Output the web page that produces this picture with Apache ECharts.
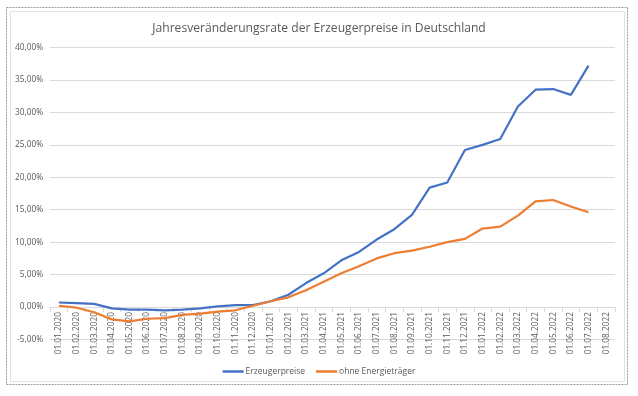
<!DOCTYPE html>
<html>
<head>
<meta charset="utf-8">
<script src="https://cdn.jsdelivr.net/npm/echarts@6/dist/echarts.min.js"></script>
<style>
	html, body {margin: 0; padding: 0; background: #fff;}
	#main {width: 638px; height: 396px;}
</style>
</head>
<body>
<div id="main"></div>
<script>
// Monatsdaten
var months = ['01.01.2020','01.02.2020','01.03.2020','01.04.2020','01.05.2020','01.06.2020',
	'01.07.2020','01.08.2020','01.09.2020','01.10.2020','01.11.2020','01.12.2020',
	'01.01.2021','01.02.2021','01.03.2021','01.04.2021','01.05.2021','01.06.2021',
	'01.07.2021','01.08.2021','01.09.2021','01.10.2021','01.11.2021','01.12.2021',
	'01.01.2022','01.02.2022','01.03.2022','01.04.2022','01.05.2022','01.06.2022',
	'01.07.2022','01.08.2022'];

// Jahresveränderung in %
var erzeugerpreise = [0.7, 0.6, 0.5, -0.2, -0.4, -0.4, -0.5, -0.4, -0.2, 0.1, 0.3, 0.3,
	0.9, 1.9, 3.7, 5.2, 7.2, 8.5, 10.4, 12.0, 14.2, 18.4, 19.2, 24.2,
	25.0, 25.9, 30.9, 33.5, 33.6, 32.7, 37.2];
var ohneEnergie = [0.2, -0.1, -0.8, -1.9, -2.2, -1.8, -1.7, -1.2, -1.0, -0.7, -0.5, 0.2,
	0.9, 1.5, 2.6, 3.9, 5.2, 6.3, 7.5, 8.3, 8.7, 9.3, 10.0, 10.5,
	12.1, 12.4, 14.1, 16.3, 16.5, 15.5, 14.6];

var yMin = -5, yMax = 40, yStep = 5;

var textColor = '#595959';
var gridColor = '#d9d9d9';
var font = 'Open Sans';

var gridTop = 47.5, gridBottom = 56.5;
var plotHeight = 396 - gridTop - gridBottom;
// x-Achse auf die 0-Linie schieben (wie in Excel)
var zeroOffset = -plotHeight * (0 - yMin) / (yMax - yMin);

var opt = {
	animation: false,
	textStyle: {fontFamily: font},
	title: {
		text: 'Jahresveränderungsrate der Erzeugerpreise in Deutschland',
		left: 'center',
		top: 18,
		textStyle: {fontSize: 12.1, fontWeight: 'normal', color: textColor, fontFamily: font}
	},
	legend: {
		top: 362,
		left: 'center',
		itemWidth: 21,
		itemHeight: 2.5,
		itemGap: 11,
		icon: 'rect',
		textStyle: {fontSize: 8.5, color: textColor, fontFamily: font, padding: [0, 0, 0, -3]},
		data: ['Erzeugerpreise', 'ohne Energieträger']
	},
	graphic: [
		{type: 'rect', silent: true, shape: {x: 6.5, y: 7.5, width: 621, height: 377},
			style: {fill: null, stroke: '#9a9a9a', lineWidth: 1, lineDash: [2, 1]}},
		{type: 'rect', silent: true, shape: {x: 10.5, y: 11.5, width: 614, height: 370},
			style: {fill: null, stroke: '#e3e3e3', lineWidth: 1}}
	],
	grid: {left: 50, right: 23, top: gridTop, bottom: gridBottom},
	xAxis: {
		type: 'category',
		boundaryGap: true,
		data: months,
		offset: zeroOffset,
		axisLine: {onZero: false, lineStyle: {color: gridColor}},
		axisTick: {show: true, length: 5, lineStyle: {color: gridColor}},
		axisLabel: {rotate: 90, fontSize: 8.3, color: textColor, margin: 5, interval: 0, fontFamily: font}
	},
	yAxis: {
		type: 'value',
		min: yMin,
		max: yMax,
		interval: yStep,
		axisLine: {show: false},
		axisTick: {show: false},
		splitLine: {lineStyle: {color: gridColor}},
		axisLabel: {
			fontSize: 8.3, color: textColor, margin: 7, fontFamily: font,
			formatter: function (v) { return v.toFixed(2).replace('.', ',') + '%'; }
		}
	},
	series: [
		{
			name: 'Erzeugerpreise',
			type: 'line',
			symbol: 'none',
			data: erzeugerpreise,
			lineStyle: {width: 2.2, color: '#4472C4'},
			itemStyle: {color: '#4472C4'}
		},
		{
			name: 'ohne Energieträger',
			type: 'line',
			symbol: 'none',
			data: ohneEnergie,
			lineStyle: {width: 2.2, color: '#ED7D31'},
			itemStyle: {color: '#ED7D31'}
		}
	]
};

var chart = echarts.init(document.getElementById('main'));
chart.setOption(opt);
</script>
</body>
</html>
